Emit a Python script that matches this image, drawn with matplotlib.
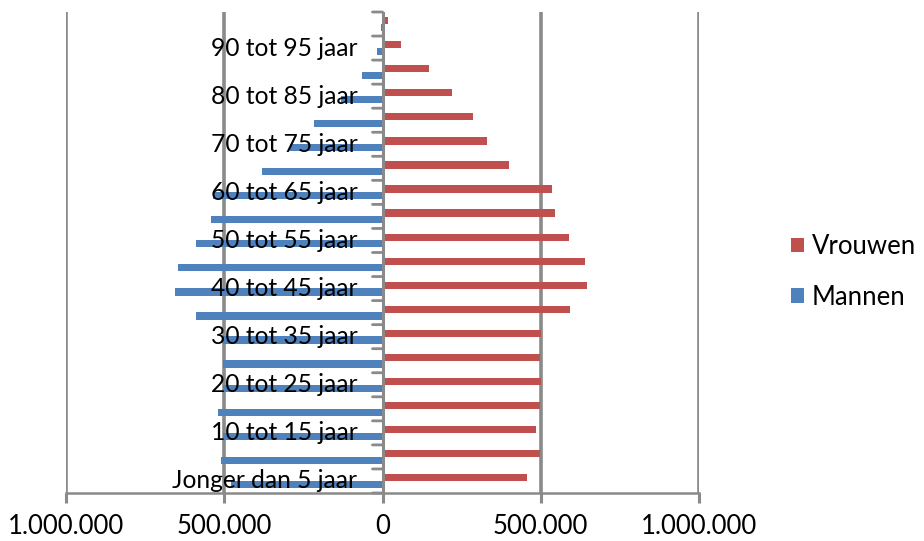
import matplotlib
matplotlib.use("Agg")
import matplotlib.pyplot as plt
from matplotlib.patches import Patch
from matplotlib.ticker import FuncFormatter, FixedLocator
import numpy as np

plt.rcParams['font.family'] = ['Lato', 'DejaVu Sans']

# Leeftijdsgroepen (van jong naar oud)
leeftijden = [
    "Jonger dan 5 jaar", "5 tot 10 jaar", "10 tot 15 jaar", "15 tot 20 jaar",
    "20 tot 25 jaar", "25 tot 30 jaar", "30 tot 35 jaar", "35 tot 40 jaar",
    "40 tot 45 jaar", "45 tot 50 jaar", "50 tot 55 jaar", "55 tot 60 jaar",
    "60 tot 65 jaar", "65 tot 70 jaar", "70 tot 75 jaar", "75 tot 80 jaar",
    "80 tot 85 jaar", "85 tot 90 jaar", "90 tot 95 jaar", "95 jaar of ouder",
]

mannen = [480000, 510000, 505000, 519000, 505000, 503000, 503000, 590000,
          656000, 647000, 590000, 543000, 535000, 381000, 293000, 215000,
          130000, 65000, 17000, 5000]

vrouwen = [455000, 497000, 484000, 497000, 500000, 497000, 500000, 593000,
           646000, 641000, 588000, 544000, 537000, 399000, 330000, 286000,
           220000, 147000, 58000, 18000]

x_ticks = [-1000000, -500000, 0, 500000, 1000000]

ROOD = "#C0504D"
BLAUW = "#4F81BD"
GRIJS = "#8A8A8A"
FS = 18.5
FS_Y = 17.7

fig = plt.figure(figsize=(9.24, 5.41), dpi=100)
ax = fig.add_axes([66 / 924, 1 - 493 / 541, (699 - 66) / 924, (493 - 12) / 541])

y = np.arange(len(leeftijden))
h = 0.30
off = 0.14
ax.barh(y + off, vrouwen, height=h, color=ROOD, zorder=3)
ax.barh(y - off, [-m for m in mannen], height=h, color=BLAUW, zorder=3)

ax.set_xlim(x_ticks[0], x_ticks[-1])
ax.set_ylim(-0.5, len(leeftijden) - 0.5)

# verticale rasterlijnen
for t in x_ticks:
    if t != 0:
        ax.axvline(t, color=GRIJS, lw=2.6, zorder=1)

# y-as op nul
ax.axvline(0, color=GRIJS, lw=2.2, zorder=4)

for s in ax.spines.values():
    s.set_visible(False)
ax.spines['bottom'].set_visible(True)
ax.spines['bottom'].set_color(GRIJS)
ax.spines['bottom'].set_linewidth(1.8)

ax.xaxis.set_major_locator(FixedLocator(x_ticks))
ax.xaxis.set_major_formatter(FuncFormatter(lambda v, p: f"{abs(int(v)):,}".replace(",", ".")))
ax.tick_params(axis='x', length=7, width=2.2, color=GRIJS, pad=8, labelsize=FS,
               labelcolor="#000000")
ax.set_yticks([])

# streepjes op de grenzen van de groepen
grenzen = np.arange(-0.5, len(leeftijden), 1.0)
for g in grenzen:
    ax.annotate("", xy=(0, g), xycoords="data", xytext=(-10, 0), textcoords="offset pixels",
                arrowprops=dict(arrowstyle="-", color=GRIJS, lw=2.0, shrinkA=0, shrinkB=0),
                zorder=5)

# labels bij elke tweede leeftijdsgroep, naast de nul-as over de balken
for i in y[::2]:
    ax.annotate(leeftijden[i], xy=(0, i), xycoords="data", xytext=(-25, 0),
                textcoords="offset pixels", ha="right", va="center",
                fontsize=FS_Y, color="#000000", zorder=6)

handles = [Patch(facecolor=ROOD, label="Vrouwen"), Patch(facecolor=BLAUW, label="Mannen")]
fig.legend(handles=handles, loc="center left", bbox_to_anchor=(781 / 924, 1 - 272 / 541),
           frameon=False, fontsize=FS, handlelength=0.5, handleheight=0.5,
           handletextpad=0.3, labelspacing=1.0, borderaxespad=0)

fig.savefig("out.png", dpi=100)
